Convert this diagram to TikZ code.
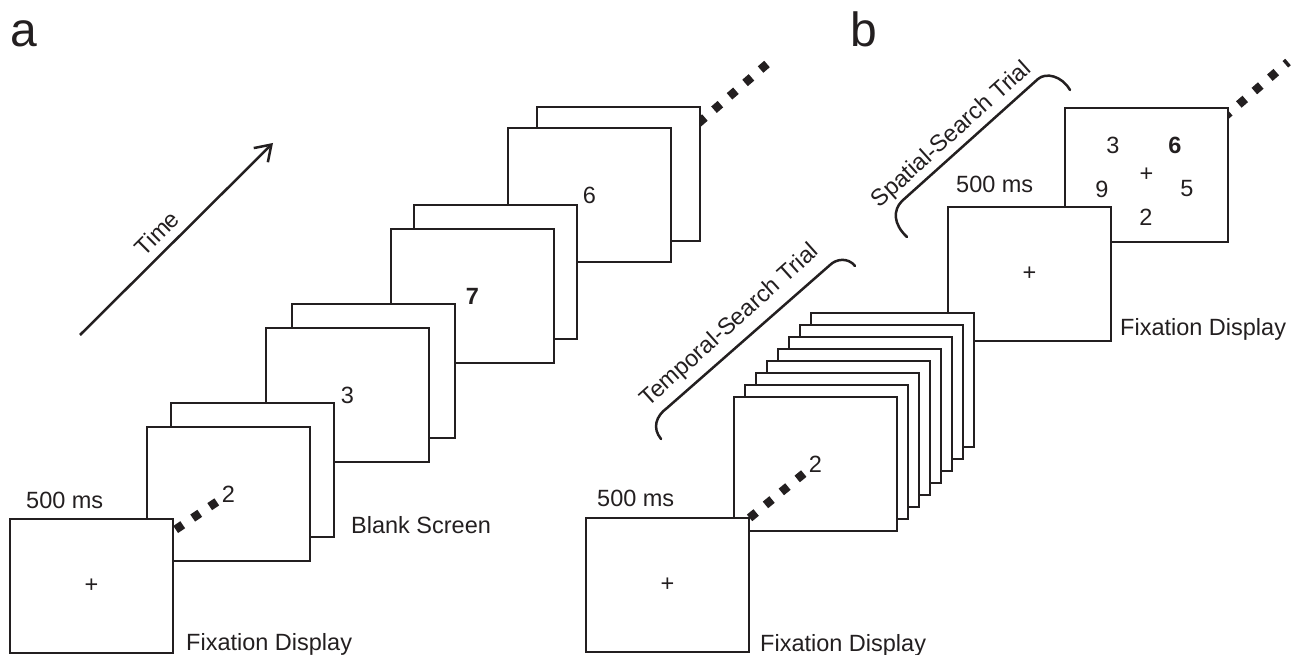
\documentclass[tikz,border=0pt]{standalone}
\usepackage{fontspec}
\setmainfont{Liberation Sans}
\usepackage{tikz}
\usetikzlibrary{arrows.meta}
\definecolor{figink}{HTML}{231F20}

\begin{document}
\begin{tikzpicture}[x=1pt, y=-1pt, >={Straight Barb[length=15pt, width=20pt]}]
		\tikzstyle{every node} = [font=\fontsize{23.5}{28}\selectfont, text=figink]
		\tikzstyle{frame} = [draw=figink, line width=2.5pt, fill=white, minimum width=163pt, minimum height=134pt, inner sep=0pt]
		\tikzstyle{digit} = [inner sep=5pt]
		\tikzstyle{tag} = [anchor=base west, inner sep=0pt]
		\tikzstyle{dots} = [draw=figink, line width=8.5pt, dash pattern=on 8.5pt off 12pt]
		\tikzstyle{brace} = [draw=figink, line width=2.5pt, line cap=round]

		\useasboundingbox (0,0) rectangle (1299,655);

		% panel a
		\begin{scope}
		\node[tag, font=\fontsize{48}{56}\selectfont] (pa) at (10,47) {a};
		\coordinate (tfrom) at (80,335);
		\coordinate (tto) at (273,143);
		\draw[->, draw=figink, line width=2.5pt] (tfrom) -- (tto);
		\node[rotate=45] (time) at (157,233) {Time};

		\coordinate (dfar) at (767,64);
		\coordinate (dnear) at (680,139);
		\draw[dots] (dfar) -- (dnear);

		\node[frame] (p4b) at (618.5,174) {};
		\node[frame] (p4f) at (589.5,195) {};
		\node[digit] (six) at (p4f) {6};
		\node[frame] (p3b) at (495.5,272) {};
		\node[frame] (p3f) at (472.5,296) {};
		\node[digit] (seven) at (p3f) {\textbf{7}};
		\node[frame] (p2b) at (373.5,371) {};
		\node[frame] (p2f) at (347.5,395) {};
		\node[digit] (three) at (p2f) {3};
		\node[frame] (p1b) at (252.5,470) {};
		\node[frame] (p1f) at (228.5,494) {};
		\node[digit] (two) at (p1f) {2};
		\node[tag] (blank) at (351,533) {Blank Screen};

		\node[frame] (fixa) at (91.5,586) {};
		\draw[dots] (two) -- (fixa.center);
		\node[frame] (fixa) at (91.5,586) {};
		\node (crossa) at (fixa) {+};
		\node[tag] (msa) at (26,508) {500 ms};
		\node[tag] (fda) at (186,650) {Fixation Display};
		\end{scope}

		% panel b
		\begin{scope}
		\node[tag, font=\fontsize{48}{56}\selectfont] (pb) at (850,47) {b};

		\coordinate (sfar) at (1288,62);
		\coordinate (snear) at (1200,138);
		\draw[dots, dash phase=5pt] (sfar) -- (snear);
		\node[frame] (spat) at (1146.5,175) {};
		\node (scross) at (spat) {+};
		\node (sthree) at (1113,145) {3};
		\node (ssix) at (1175,145) {\textbf{6}};
		\node (snine) at (1102,189) {9};
		\node (sfive) at (1187,189) {5};
		\node (stwo) at (1146,217) {2};

		\node[frame] (fixc) at (1029.5,274) {};
		\node (crossc) at (fixc) {+};
		\node[tag] (msc) at (956,193) {500 ms};
		\node[tag] (fdc) at (1120,335) {Fixation Display};

		\foreach \k in {7,...,1}
			\node[frame] (tb\k) at ({815.5+11*\k},{464-12*\k}) {};
		\node[frame] (tf) at (815.5,464) {};
		\node[digit] (ttwo) at (tf) {2};

		\node[frame] (fixb) at (667.5,585) {};
		\draw[dots] (ttwo) -- (fixb.center);
		\node[frame] (fixb) at (667.5,585) {};
		\node (crossb) at (fixb) {+};
		\node[tag] (msb) at (597,506) {500 ms};
		\node[tag] (fdb) at (760,651) {Fixation Display};

		% trial braces
		\draw[brace] (661,439) .. controls (652,428) and (656,416) .. (667,408)
			-- (830,265) .. controls (836,259) and (848,257) .. (855,266);
		\node[rotate=42] (templbl) at (730,326) {Temporal-Search Trial};
		\draw[brace] (907,237) .. controls (893,224) and (893,210) .. (902,201)
			-- (1038,79) .. controls (1046,72) and (1062,76) .. (1070,90);
		\node[rotate=42] (spatlbl) at (952,135) {Spatial-Search Trial};
		\end{scope}
\end{tikzpicture}
\end{document}
